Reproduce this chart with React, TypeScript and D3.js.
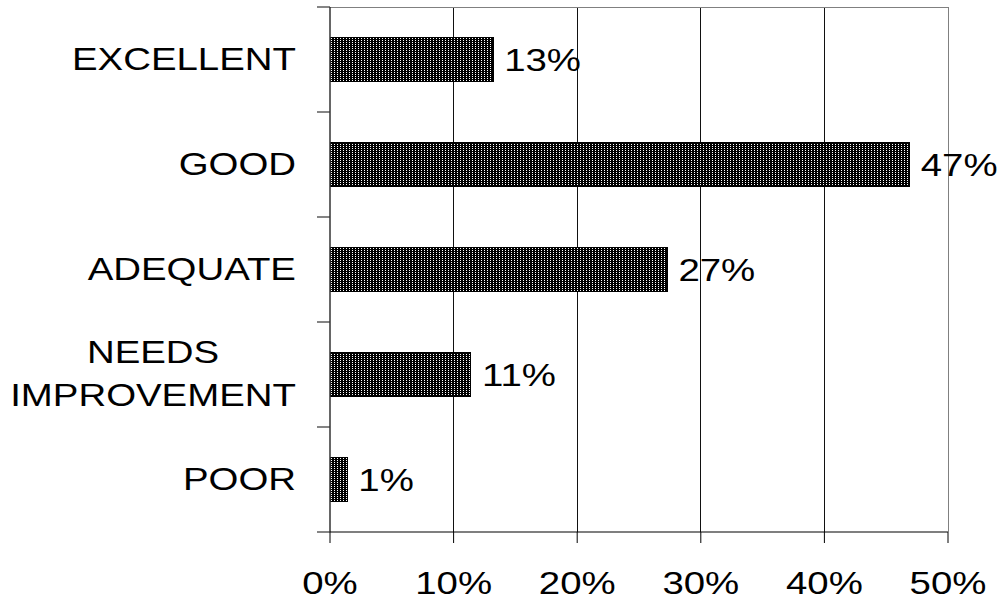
import * as d3 from "d3";
import { useEffect, useRef } from "react";

const categories = ["EXCELLENT", "GOOD", "ADEQUATE", "NEEDS IMPROVEMENT", "POOR"];
const categoryLines = [["EXCELLENT"], ["GOOD"], ["ADEQUATE"], ["NEEDS", "IMPROVEMENT"], ["POOR"]];
const values = [13.2, 46.9, 27.3, 11.4, 1.4];
const valueLabels = ["13%", "47%", "27%", "11%", "1%"];
const xTicks = [0, 10, 20, 30, 40, 50];

const W = 1001;
const H = 601;
const FONT = "'Liberation Sans', Arial, Helvetica, sans-serif";
const FS = 32;
const SX = 1.2; // the reference text is stretched wide

export default function App() {
  const ref = useRef<SVGSVGElement>(null);

  useEffect(() => {
    if (!ref.current) return;
    const left = 330;
    const right = 948;
    const top = 7;
    const bottom = 532;

    const x = d3.scaleLinear().domain([0, 50]).range([left, right]);
    const y = d3.scaleBand<string>().domain(categories).range([top, bottom]).paddingInner(0.59).paddingOuter(0.295);
    const step = y.step();

    const svg = d3.select(ref.current);
    svg.selectAll("*").remove();

    const defs = svg.append("defs");
    const pat = defs.append("pattern").attr("id", "dots").attr("width", 3).attr("height", 2).attr("patternUnits", "userSpaceOnUse");
    pat.append("rect").attr("width", 3).attr("height", 2).attr("fill", "#000");
    pat.append("rect").attr("x", 1).attr("y", 0).attr("width", 1).attr("height", 1).attr("fill", "#fff");

    // gridlines
    svg.append("g")
      .selectAll("line")
      .data(xTicks.slice(1))
      .join("line")
      .attr("x1", (d) => x(d))
      .attr("x2", (d) => x(d))
      .attr("y1", top)
      .attr("y2", bottom)
      .attr("stroke", (d) => (d === 50 ? "#808080" : "#111"))
      .attr("stroke-width", 1)
      .attr("shape-rendering", "crispEdges");

    // top border
    svg.append("line").attr("x1", left).attr("x2", right).attr("y1", top).attr("y2", top)
      .attr("stroke", "#808080").attr("shape-rendering", "crispEdges");

    // bars
    svg.append("g")
      .selectAll("rect")
      .data(categories)
      .join("rect")
      .attr("x", x(0))
      .attr("y", (d) => y(d)!)
      .attr("width", (_, i) => x(values[i]) - x(0))
      .attr("height", y.bandwidth())
      .attr("fill", "url(#dots)")
      .attr("stroke", "#000")
      .attr("stroke-width", 1)
      .attr("shape-rendering", "crispEdges");

    // value labels
    svg.append("g")
      .selectAll("text")
      .data(categories)
      .join("text")
      .attr("transform", (d, i) => `translate(${x(values[i]) + 11},${y(d)! + y.bandwidth() / 2 + 11}) scale(${SX},1)`)
      .attr("font-family", FONT)
      .attr("font-size", FS)
      .attr("fill", "#000")
      .text((_, i) => valueLabels[i]);

    // y axis
    svg.append("line").attr("x1", left).attr("x2", left).attr("y1", top).attr("y2", bottom)
      .attr("stroke", "#333").attr("stroke-width", 1.5);
    const bounds = d3.range(categories.length + 1).map((i) => top + i * step);
    svg.append("g")
      .selectAll("line")
      .data(bounds)
      .join("line")
      .attr("x1", left - 13)
      .attr("x2", left)
      .attr("y1", (d) => d)
      .attr("y2", (d) => d)
      .attr("stroke", "#333")
      .attr("stroke-width", 1.2);

    // x axis
    svg.append("line").attr("x1", left).attr("x2", right).attr("y1", bottom).attr("y2", bottom)
      .attr("stroke", "#000").attr("stroke-width", 1.2);
    svg.append("g")
      .selectAll("line")
      .data(xTicks)
      .join("line")
      .attr("x1", (d) => x(d))
      .attr("x2", (d) => x(d))
      .attr("y1", bottom)
      .attr("y2", bottom + 11)
      .attr("stroke", "#000")
      .attr("stroke-width", 1);
    svg.append("g")
      .selectAll("text")
      .data(xTicks)
      .join("text")
      .attr("transform", (d) => `translate(${x(d)},594) scale(${SX},1)`)
      .attr("text-anchor", "middle")
      .attr("font-family", FONT)
      .attr("font-size", FS)
      .attr("fill", "#000")
      .text((d) => `${d}%`);

    // category labels
    const labelRight = 296;
    const lineH = 43;
    categories.forEach((c, i) => {
      const lines = categoryLines[i];
      const cy = y(c)! + y.bandwidth() / 2;
      const g = svg.append("g");
      const texts = lines.map((ln) =>
        g.append("text").attr("font-family", FONT).attr("font-size", FS).attr("fill", "#000").text(ln)
      );
      const widths = texts.map((t) => (t.node() as SVGTextElement).getComputedTextLength() * SX);
      const maxW = d3.max(widths) ?? 0;
      const cx = labelRight - maxW / 2;
      texts.forEach((t, j) => {
        const by = cy + 10 + (j - (lines.length - 1) / 2) * lineH;
        t.attr("text-anchor", "middle").attr("transform", `translate(${cx},${by}) scale(${SX},1)`);
      });
    });
  }, []);

  return (
    <svg
      ref={ref}
      width={W}
      height={H}
      style={{ position: "absolute", left: 0, top: 0, background: "#fff", display: "block" }}
    />
  );
}
